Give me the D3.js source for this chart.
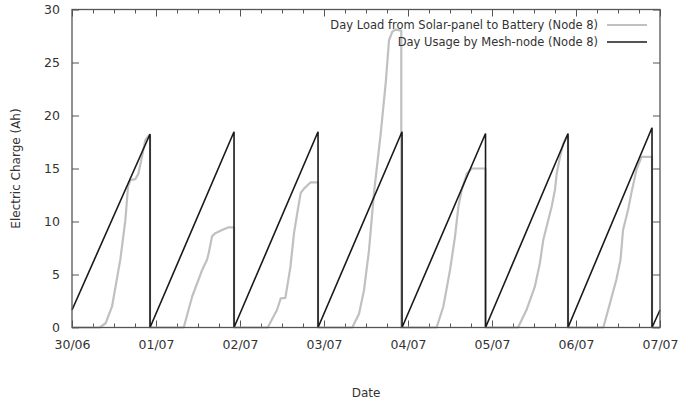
<!DOCTYPE html>
<html>
<head>
<meta charset="utf-8">
<script src="https://cdn.jsdelivr.net/npm/d3@7"></script>
<style>
  body { margin: 0; background: #fff; }
  svg text { font-family: "DejaVu Sans", sans-serif; fill: #333; }
</style>
</head>
<body>
<div id="chart"></div>
<script>
"use strict";

// time is in days after 30/06 00:00
const usageDays = [0, 0.929, 0.929, 1.929, 1.929, 2.929, 2.929, 3.929, 3.929, 4.923, 4.923, 5.905, 5.905, 6.905, 6.905, 7.0];
const usageValues = [1.65, 18.25, 0, 18.47, 0, 18.47, 0, 18.47, 0, 18.3, 0, 18.3, 0, 18.85, 0, 1.65];

const loadDays = [
    0, 0.33, 0.40, 0.476, 0.575, 0.635, 0.667, 0.694, 0.754, 0.79, 0.833, 0.873, 0.913, 0.929, 0.929,
    1.33, 1.43, 1.548, 1.607, 1.627, 1.667, 1.706, 1.786, 1.865, 1.929, 1.929,
    2.33, 2.44, 2.485, 2.54, 2.60, 2.643, 2.682, 2.723, 2.762, 2.841, 2.929, 2.929,
    3.337, 3.417, 3.476, 3.536, 3.595, 3.675, 3.734, 3.774, 3.813, 3.853, 3.92, 3.92,
    4.34, 4.42, 4.5, 4.56, 4.6, 4.64, 4.70, 4.76, 4.923, 4.923,
    5.31, 5.41, 5.51, 5.57, 5.61, 5.65, 5.71, 5.75, 5.77, 5.81, 5.85, 5.89, 5.905, 5.905,
    6.325, 6.405, 6.48, 6.53, 6.56, 6.62, 6.66, 6.72, 6.78, 6.905, 6.905, 7.0
];
const loadValues = [
    0, 0, 0.4, 1.96, 6.4, 10.1, 13.3, 13.9, 14.0, 14.5, 16.1, 17.7, 18.1, 18.1, 0,
    0, 2.9, 5.4, 6.4, 7.0, 8.6, 8.9, 9.2, 9.45, 9.45, 0,
    0, 1.65, 2.75, 2.8, 5.7, 8.9, 10.8, 12.7, 13.1, 13.7, 13.7, 0,
    0, 1.3, 3.5, 7.3, 12.7, 18.3, 23.0, 27.1, 27.9, 28.1, 28.0, 0,
    0, 1.96, 5.4, 8.6, 11.4, 13.0, 14.5, 15.0, 15.0, 0,
    0, 1.65, 3.85, 6.06, 8.25, 9.5, 11.4, 13.0, 14.5, 16.1, 17.4, 18.0, 18.0, 0,
    0, 2.3, 4.5, 6.4, 9.2, 11.1, 12.7, 14.9, 16.1, 16.1, 0, 0
];

const yTicks = [0, 5, 10, 15, 20, 25, 30];
const seriesNames = ["Day Load from Solar-panel to Battery (Node 8)", "Day Usage by Mesh-node (Node 8)"];
const seriesColors = ["#c0c0c0", "#1a1a1a"];

const width = 678, height = 403;
const margin = {top: 9.5, right: 18, bottom: 75.5, left: 72};
const innerW = width - margin.left - margin.right;
const innerH = height - margin.top - margin.bottom;

const startTime = Date.UTC(2014, 5, 30);
const toDate = d => new Date(startTime + d * 864e5);

const svg = d3.select("#chart")
    .append("svg")
    .attr("width", width)
    .attr("height", height);

const g = svg.append("g")
    .attr("transform", `translate(${margin.left},${margin.top})`);

const xScale = d3.scaleUtc()
    .domain([toDate(0), toDate(7)])
    .range([0, innerW]);
const yScale = d3.scaleLinear()
    .domain([0, 30])
    .range([innerH, 0]);

const axisColor = "#555";
const dayTicks = d3.utcDay.range(toDate(0), toDate(7.01));
const minorTicks = d3.utcHour.every(6).range(toDate(0), toDate(7)).filter(t => t.getUTCHours() !== 0);

// ticks pointing inward on all four sides, like gnuplot
function styleAxis(sel) {
    sel.select(".domain").remove();
    sel.selectAll(".tick line").attr("stroke", axisColor);
    sel.selectAll(".tick text").style("font-size", "12.5px").style("fill", "#333");
}

g.append("g")
    .attr("transform", `translate(0,${innerH})`)
    .call(d3.axisBottom(xScale).tickValues(dayTicks).tickFormat(d3.utcFormat("%d/%m")).tickSizeInner(-7).tickPadding(13))
    .call(styleAxis);
g.append("g")
    .attr("transform", `translate(0,${innerH})`)
    .call(d3.axisBottom(xScale).tickValues(minorTicks).tickFormat("").tickSizeInner(-4))
    .call(styleAxis);
g.append("g")
    .call(d3.axisTop(xScale).tickValues(dayTicks).tickFormat("").tickSizeInner(-7))
    .call(styleAxis);
g.append("g")
    .call(d3.axisTop(xScale).tickValues(minorTicks).tickFormat("").tickSizeInner(-4))
    .call(styleAxis);
g.append("g")
    .call(d3.axisLeft(yScale).tickValues(yTicks).tickSizeInner(-7).tickPadding(12))
    .call(styleAxis);
g.append("g")
    .attr("transform", `translate(${innerW},0)`)
    .call(d3.axisRight(yScale).tickValues(yTicks).tickFormat("").tickSizeInner(-7))
    .call(styleAxis);

const line = d3.line()
    .x(d => xScale(toDate(d[0])))
    .y(d => yScale(d[1]));

g.append("path")
    .datum(d3.zip(loadDays, loadValues))
    .attr("fill", "none")
    .attr("stroke", seriesColors[0])
    .attr("stroke-width", 2.2)
    .attr("stroke-linejoin", "round")
    .attr("d", line);

g.append("path")
    .datum(d3.zip(usageDays, usageValues))
    .attr("fill", "none")
    .attr("stroke", seriesColors[1])
    .attr("stroke-width", 1.6)
    .attr("d", line);

g.append("rect")
    .attr("width", innerW)
    .attr("height", innerH)
    .attr("fill", "none")
    .attr("stroke", axisColor)
    .attr("stroke-width", 1.3);

// legend
const legend = g.append("g")
    .attr("transform", `translate(${innerW - 13},0)`);
seriesNames.forEach((name, i) => {
    const row = legend.append("g")
        .attr("transform", `translate(0,${15.5 + i * 17})`);
    row.append("text")
        .attr("x", -49)
        .attr("dy", "0.35em")
        .attr("text-anchor", "end")
        .style("font-size", "11.5px")
        .text(name);
    row.append("line")
        .attr("x1", -40)
        .attr("x2", 0)
        .attr("stroke", seriesColors[i])
        .attr("stroke-width", i === 0 ? 2.2 : 1.6);
});

svg.append("text")
    .attr("text-anchor", "middle")
    .attr("transform", `translate(16,${margin.top + innerH / 2}) rotate(-90)`)
    .attr("dy", "0.35em")
    .style("font-size", "12px")
    .text("Electric Charge (Ah)");

svg.append("text")
    .attr("text-anchor", "middle")
    .attr("x", margin.left + innerW / 2)
    .attr("y", 393)
    .attr("dy", "0.35em")
    .style("font-size", "12px")
    .text("Date");
</script>
</body>
</html>
